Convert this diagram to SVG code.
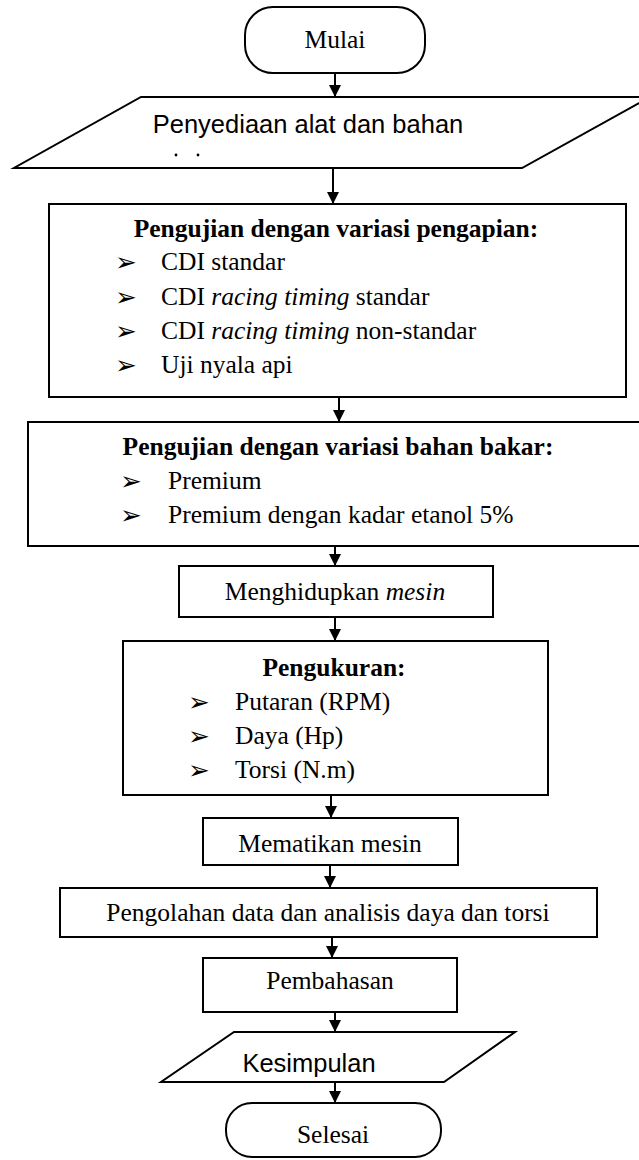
<svg xmlns="http://www.w3.org/2000/svg" width="639" height="1160" viewBox="0 0 639 1160">
<style>
.shape{fill:#fff;stroke:#000;stroke-width:2}
.t{font-family:"Liberation Serif","Times New Roman",serif;font-size:25.5px;fill:#000}
.c{text-anchor:middle}
.b{font-weight:bold}
.i{font-style:italic}
.s{font-family:"Liberation Sans",Arial,sans-serif;font-size:25.5px;fill:#000}
.bul{font-family:"DejaVu Sans",sans-serif;font-size:26px;fill:#000}
.conn line{stroke:#000;stroke-width:2;marker-end:url(#ah)}
</style>
<defs>
<marker id="ah" viewBox="0 0 10 10" refX="10" refY="5" markerWidth="12" markerHeight="12" markerUnits="userSpaceOnUse" orient="auto">
<path d="M0,0 L10,5 L0,10 z" fill="#000"/>
</marker>
</defs>
<rect width="639" height="1160" fill="#fff"/>

<g id="mulai">
<rect class="shape" x="245" y="7" width="180" height="66" rx="28" ry="28"/>
<text class="t c" x="335" y="48">Mulai</text>
</g>

<g id="penyediaan">
<polygon class="shape" points="141,97 650,97 522,168 14,168"/>
<text class="s c" x="308" y="133">Penyediaan alat dan bahan</text>
<circle cx="176" cy="155" r="1.4" fill="#000"/>
<circle cx="198" cy="155" r="1.4" fill="#000"/>
</g>

<g id="pengapian">
<rect class="shape" x="49" y="204" width="577" height="193"/>
<text class="t b c" x="336" y="237">Pengujian dengan variasi pengapian:</text>
<text class="bul" x="115" y="271">➢</text>
<text class="t" x="161" y="270">CDI standar</text>
<text class="bul" x="115" y="306">➢</text>
<text class="t" x="161" y="305">CDI <tspan class="i">racing timing</tspan> standar</text>
<text class="bul" x="115" y="340">➢</text>
<text class="t" x="161" y="339">CDI <tspan class="i">racing timing</tspan> non-standar</text>
<text class="bul" x="115" y="374">➢</text>
<text class="t" x="161" y="373">Uji nyala api</text>
</g>

<g id="bahanbakar">
<rect class="shape" x="28" y="422" width="620" height="124"/>
<text class="t b c" x="338" y="455">Pengujian dengan variasi bahan bakar:</text>
<text class="bul" x="120" y="490">➢</text>
<text class="t" x="168" y="489">Premium</text>
<text class="bul" x="120" y="524">➢</text>
<text class="t" x="168" y="523">Premium dengan kadar etanol 5%</text>
</g>

<g id="menghidupkan">
<rect class="shape" x="179" y="566" width="314" height="51"/>
<text class="t c" x="335" y="600">Menghidupkan <tspan class="i">mesin</tspan></text>
</g>

<g id="pengukuran">
<rect class="shape" x="123" y="641" width="425" height="154"/>
<text class="t b c" x="334" y="676">Pengukuran:</text>
<text class="bul" x="188" y="711">➢</text>
<text class="t" x="235" y="710">Putaran (RPM)</text>
<text class="bul" x="188" y="745">➢</text>
<text class="t" x="235" y="744">Daya (Hp)</text>
<text class="bul" x="188" y="779">➢</text>
<text class="t" x="235" y="778">Torsi (N.m)</text>
</g>

<g id="mematikan">
<rect class="shape" x="203" y="818" width="255" height="47"/>
<text class="t c" x="330" y="852">Mematikan mesin</text>
</g>

<g id="pengolahan">
<rect class="shape" x="60" y="888" width="537" height="49"/>
<text class="t c" x="328" y="921">Pengolahan data dan analisis daya dan torsi</text>
</g>

<g id="pembahasan">
<rect class="shape" x="203" y="958" width="254" height="54"/>
<text class="t c" x="330" y="989">Pembahasan</text>
</g>

<g id="kesimpulan">
<polygon class="shape" points="234,1032 515,1032 444,1082 161,1082"/>
<text class="s c" x="309" y="1072">Kesimpulan</text>
</g>

<g id="selesai">
<rect class="shape" x="226" y="1103" width="215" height="54" rx="26" ry="26"/>
<text class="t c" x="333" y="1143">Selesai</text>
</g>

<g id="connectors" class="conn">
<line x1="335" y1="73" x2="335" y2="97"/>
<line x1="333" y1="168" x2="333" y2="204"/>
<line x1="339" y1="397" x2="339" y2="422"/>
<line x1="335" y1="546" x2="335" y2="566"/>
<line x1="335" y1="617" x2="335" y2="641"/>
<line x1="331" y1="795" x2="331" y2="818"/>
<line x1="330" y1="865" x2="330" y2="888"/>
<line x1="332" y1="937" x2="332" y2="958"/>
<line x1="335" y1="1012" x2="335" y2="1032"/>
<line x1="335" y1="1082" x2="335" y2="1103"/>
</g>
</svg>
